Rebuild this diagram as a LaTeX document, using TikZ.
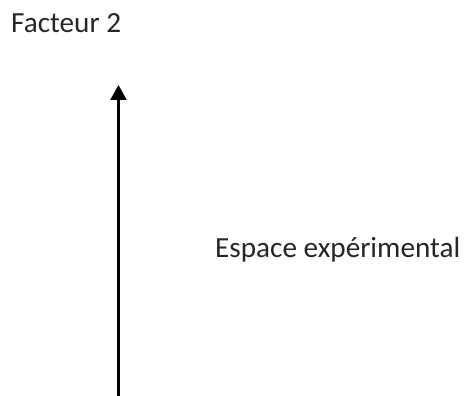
\documentclass[tikz,border=0pt]{standalone}
\usepackage{fontspec}
\setmainfont{Carlito}
\usetikzlibrary{arrows.meta}
\begin{document}
\begin{tikzpicture}[x=1pt,y=-1pt,
  label text/.style={anchor=base west,inner sep=0pt,text=black!85,
    font=\fontsize{29.2}{35}\selectfont},
  axis arrow/.style={line width=2.4pt,-{Triangle[length=15pt,width=16pt]}}]
  \useasboundingbox (0,0) rectangle (464,396);
  \node[label text] (f2) at (11,33) {Facteur 2};
  \node[label text] (esp) at (215,257) {Espace expérimental};
  \coordinate (base) at (118.5,398);
  \coordinate (tip) at (118.5,85);
  \draw[axis arrow] (base) -- (tip);
\end{tikzpicture}
\end{document}
